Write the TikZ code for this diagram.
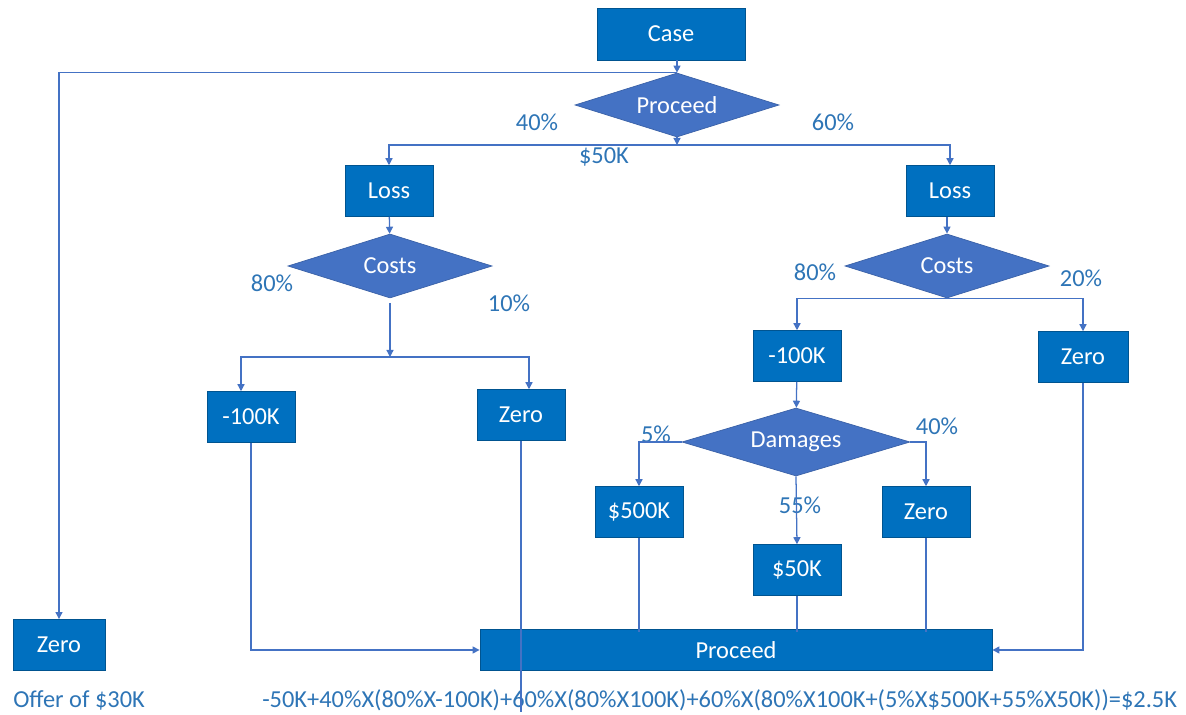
\documentclass[tikz,border=0pt]{standalone}
\usepackage{fontspec}
\setmainfont{Carlito}
\usetikzlibrary{arrows.meta,shapes.geometric}
\definecolor{boxblue}{HTML}{0070C0}
\definecolor{diablue}{HTML}{4472C4}
\definecolor{labblue}{HTML}{2E75B6}

\begin{document}
\begin{tikzpicture}[x=0.025cm,y=-0.025cm]
        \tikzstyle{every node}+=[font=\fontsize{17.35}{20}\selectfont]
        \tikzstyle{box}=[rectangle,fill=boxblue,draw=boxblue!75!black,line width=0.5pt,text=white,minimum width=2.2cm,minimum height=1.27cm,inner sep=0pt]
        \tikzstyle{choice}=[diamond,fill=diablue,draw=diablue!85!black,line width=0.5pt,text=white,minimum width=5.1cm,minimum height=1.6cm,inner sep=0pt,aspect=3.2]
        \tikzstyle{pct}=[text=labblue,inner sep=0pt]
        \tikzstyle{link}=[draw=diablue,line width=0.9pt]
        \tikzstyle{arr}=[link,-{Triangle[length=5pt,width=5pt]}]
        \useasboundingbox (0,0) rectangle (1186,715);
        % boxes and choices
        \node [box,minimum width=3.7cm,minimum height=1.3cm] (case) at (671,34) {Case};
        \node [choice] (proc) at (677,105) {Proceed};
        \node [box] (lossl) at (389,191) {Loss};
        \node [box] (lossr) at (950,191) {Loss};
        \node [choice] (costl) at (390,266) {Costs};
        \node [choice] (costr) at (947,266) {Costs};
        \node [box] (negl) at (251,417) {-100K};
        \node [box] (zerol) at (521,415) {Zero};
        \node [box] (negr) at (797,356) {-100K};
        \node [box,minimum width=2.25cm] (zeror) at (1083,357) {Zero};
        \node [choice,minimum width=5.7cm,minimum height=1.7cm] (dam) at (796,442) {Damages};
        \node [box] (big) at (639,512) {\$500K};
        \node [box] (zerod) at (926,512) {Zero};
        \node [box] (small) at (797,570) {\$50K};
        \node [box,minimum width=12.8cm,minimum height=1.03cm] (bar) at (736,650) {Proceed};
        \node [box,minimum width=2.3cm,minimum height=1.28cm] (offer) at (59,645) {Zero};
        % labels
        \node [pct] (p40) at (537,122) {40\%};
        \node [pct] (p60) at (833,122) {60\%};
        \node [pct] (fee) at (604,157) {\$50K};
        \node [pct] (c80l) at (272,283) {80\%};
        \node [pct] (c10l) at (509,303) {10\%};
        \node [pct] (c80r) at (815,272) {80\%};
        \node [pct] (c20r) at (1081,278) {20\%};
        \node [pct] (d5) at (656,434) {5\%};
        \node [pct] (d40) at (937,426) {40\%};
        \node [pct] (d55) at (800,505) {55\%};
        \node [pct,anchor=west] (note) at (13,700) {Offer of \$30K};
        \node [pct,anchor=west] (calc) at (262,700) {-50K+40\%X(80\%X-100K)+60\%X(80\%X100K)+60\%X(80\%X100K+(5\%X\$500K+55\%X50K))=\$2.5K};
        % connectors
        \coordinate (split) at (677,145);
        \coordinate (costlout) at (390,303);
        \coordinate (costlsplit) at (390,357);
        \coordinate (tail) at (521,712);
        \draw [arr] (proc.north |- case.south) -- (proc.north);
        \draw [arr] (proc.north) -| (offer.north);
        \draw [arr] (proc.south) -- (split);
        \draw [arr] (split) -| (lossl.north);
        \draw [arr] (split) -| (lossr.north);
        \draw [arr] (lossl) -- (costl);
        \draw [arr] (costlout) -- (costlsplit);
        \draw [arr] (costlsplit) -| ([xshift=-0.25cm]negl.north);
        \draw [arr] (costlsplit) -| ([xshift=0.2cm]zerol.north);
        \draw [arr] (lossr.south -| costr.north) -- (costr.north);
        \draw [arr] (costr.south) -| (negr.north);
        \draw [arr] (costr.south) -| (zeror.north);
        \draw [arr] (negr) -- (dam);
        \draw [arr] (dam.west) -| (big.north);
        \draw [arr] (dam.east) -| (zerod.north);
        \draw [arr] (dam.south) -- (small.north);
        \draw [link] (big.south) -- ([yshift=-0.08cm]big.south |- bar.north);
        \draw [link] (small.south) -- ([yshift=-0.08cm]small.south |- bar.north);
        \draw [link] (zerod.south) -- ([yshift=-0.08cm]zerod.south |- bar.north);
        \draw [arr] (zeror.south) |- (bar.east);
        \draw [arr] (negl.south) |- (bar.west);
        \draw [link] (zerol.south) -- (tail);
\end{tikzpicture}
\end{document}
